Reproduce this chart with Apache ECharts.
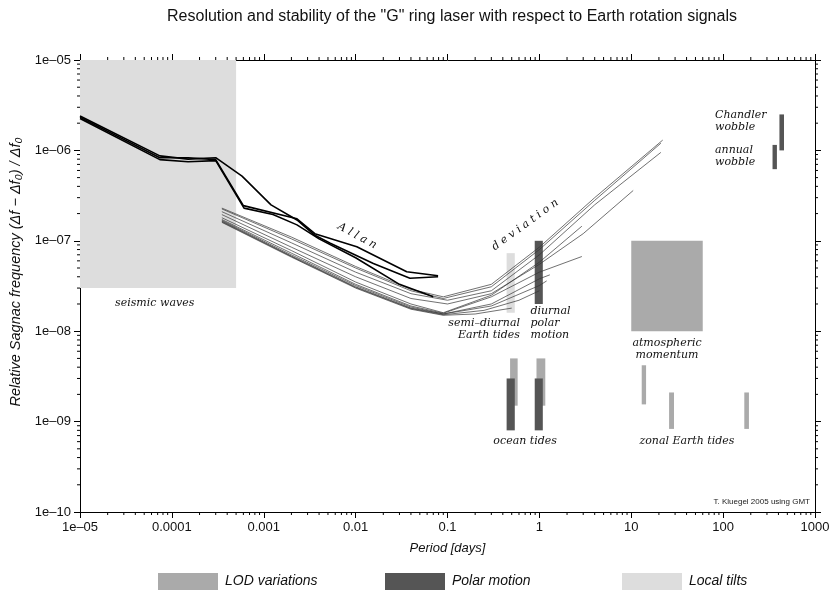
<!DOCTYPE html>
<html>
<head>
<meta charset="utf-8">
<script src="https://cdn.jsdelivr.net/npm/echarts@6.0.0/dist/echarts.min.js"></script>
<style>
  html, body { margin: 0; padding: 0; background: #fff; }
  #chart { width: 840px; height: 594px; }
</style>
</head>
<body>
<div id="chart"></div>
<script>
// axis tick labels (by decade exponent)
const xTickLabels = { '-5': '1e–05', '-4': '0.0001', '-3': '0.001', '-2': '0.01', '-1': '0.1', '0': '1', '1': '10', '2': '100', '3': '1000' };
const yTickLabels = { '-10': '1e–10', '-9': '1e–09', '-8': '1e–08', '-7': '1e–07', '-6': '1e–06', '-5': '1e–05' };

// signal bands: [period from, period to, value from, value to]
const lodBands = [
  [10, 60, 1e-8, 1e-7],        // atmospheric momentum
  [0.48, 0.58, 1.5e-9, 5e-9],  // ocean tides (semi-diurnal)
  [0.93, 1.16, 1.5e-9, 5e-9],  // ocean tides (diurnal)
  [13, 14.5, 1.55e-9, 4.2e-9], // zonal tides
  [25.8, 29.2, 8.3e-10, 2.1e-9],
  [170, 191, 8.3e-10, 2.1e-9]
];
const polarBands = [
  [0.89, 1.09, 2e-8, 1e-7],     // diurnal polar motion
  [0.44, 0.54, 8e-10, 3e-9],    // ocean tides
  [0.89, 1.09, 8e-10, 3e-9],
  [410, 460, 1e-6, 2.5e-6],     // Chandler wobble
  [345, 385, 6.2e-7, 1.15e-6]   // annual wobble
];
const tiltBands = [
  [1e-5, 5e-4, 3e-8, 1e-5],     // seismic waves
  [0.44, 0.54, 1.6e-8, 7.3e-8]  // semi-diurnal Earth tides
];

// Allan deviation curves: [period in days, relative frequency]
const allanThick = [
  [[1e-5, 2.4e-6], [7.4e-5, 8.7e-7], [1.5e-4, 8.0e-7], [3e-4, 8.3e-7], [5.8e-4, 5.2e-7], [1.2e-3, 2.5e-7], [2.3e-3, 1.7e-7], [3.6e-3, 1.15e-7], [5.3e-3, 9.4e-8], [0.0156, 5.6e-8], [0.039, 3.85e-8], [0.079, 4.0e-8]],
  [[1e-5, 2.33e-6], [7.4e-5, 8.3e-7], [1.5e-4, 8.3e-7], [3e-4, 7.9e-7], [6e-4, 2.45e-7], [2.3e-3, 1.75e-7], [3.6e-3, 1.2e-7], [0.0103, 8.6e-8], [0.036, 4.55e-8], [0.079, 4.1e-8]],
  [[1e-5, 2.25e-6], [7.4e-5, 7.9e-7], [1.5e-4, 7.5e-7], [3e-4, 7.7e-7], [6.1e-4, 2.3e-7], [1.26e-3, 1.95e-7], [2.3e-3, 1.5e-7], [4e-3, 1.05e-7], [0.01, 6.5e-8], [0.03, 3.3e-8], [0.07, 2.4e-8]]
];
const allanThin = [
  [[3.5e-4, 2.3e-7], [2e-3, 1.1e-7], [0.01, 5.2e-8], [0.04, 2.9e-8], [0.09, 2.4e-8], [0.3, 3.3e-8], [1, 8.5e-8], [4, 3e-7], [22, 1.3e-6]],
  [[3.5e-4, 2.25e-7], [2e-3, 1.05e-7], [0.01, 5e-8], [0.04, 2.8e-8], [0.09, 2.3e-8], [0.3, 3.1e-8], [1, 8e-8], [4, 2.8e-7], [21, 1.2e-6]],
  [[3.5e-4, 2.1e-7], [2e-3, 9.5e-8], [0.01, 4.5e-8], [0.04, 2.6e-8], [0.1, 2.2e-8], [0.3, 2.8e-8], [1, 7e-8], [4, 2.5e-7], [21, 9.5e-7]],
  [[3.5e-4, 1.95e-7], [2e-3, 8.5e-8], [0.01, 4e-8], [0.04, 2.3e-8], [0.1, 2e-8], [0.3, 2.6e-8], [1, 5.5e-8], [3, 1.2e-7], [10.5, 3.6e-7]],
  [[3.5e-4, 1.8e-7], [2e-3, 7.8e-8], [0.01, 3.5e-8], [0.04, 2e-8], [0.09, 1.6e-8], [0.3, 2.5e-8], [1, 5.8e-8], [2.9, 1.45e-7]],
  [[3.5e-4, 1.72e-7], [2e-3, 7.3e-8], [0.01, 3.3e-8], [0.04, 1.9e-8], [0.09, 1.58e-8], [0.3, 2.4e-8], [1, 4.5e-8], [2.9, 6.7e-8]],
  [[3.5e-4, 1.68e-7], [2e-3, 7e-8], [0.01, 3.2e-8], [0.04, 1.85e-8], [0.09, 1.55e-8], [0.3, 2.0e-8], [1, 3.8e-8], [1.3, 4.2e-8]],
  [[3.5e-4, 1.65e-7], [2e-3, 6.8e-8], [0.01, 3.1e-8], [0.04, 1.8e-8], [0.09, 1.55e-8], [0.3, 1.9e-8], [1, 3.2e-8], [1.2, 3.6e-8]],
  [[3.5e-4, 1.62e-7], [2e-3, 6.7e-8], [0.01, 3.05e-8], [0.04, 1.78e-8], [0.09, 1.52e-8], [0.25, 1.7e-8], [0.6, 2.2e-8], [1, 2.8e-8]],
  [[3.5e-4, 1.6e-7], [2e-3, 6.6e-8], [0.01, 3e-8], [0.04, 1.75e-8], [0.09, 1.5e-8], [0.2, 1.55e-8], [0.5, 1.8e-8]]
];

// text notes placed in data coordinates: [text, period, value, align, rotation deg (ccw)]
const notes = [
  ['seismic waves', 6.5e-5, 2.05e-8, 'center', 0],
  ['A l l a n', 0.0104, 1.13e-7, 'center', -28.5],
  ['d e v i a t i o n', 0.70, 1.5e-7, 'center', 36],
  ['semi–diurnal\nEarth tides', 0.615, 1.06e-8, 'right', 0],
  ['diurnal\npolar\nmotion', 0.80, 1.22e-8, 'left', 0],
  ['atmospheric\nmomentum', 24.5, 6.4e-9, 'center', 0],
  ['ocean tides', 0.70, 6.1e-10, 'center', 0],
  ['zonal Earth tides', 40.4, 6.1e-10, 'center', 0],
  ['Chandler\nwobble', 81.6, 2.09e-6, 'left', 0],
  ['annual\nwobble', 81.6, 8.6e-7, 'left', 0]
];

const LOD = '#aaaaaa', POLAR = '#555555', TILT = '#dddddd';
const sansFont = '"Liberation Sans", Arial, sans-serif';
const serifFont = '"DejaVu Serif", serif';

// minor tick values 2..9 per decade
const minorTicks = [];
for (let d = -5; d < 3; d++) {
  for (let m = 2; m <= 9; m++) {
    minorTicks.push([m * Math.pow(10, d), 1e-10, 0]);
    minorTicks.push([m * Math.pow(10, d), 1e-5, 1]);
  }
}
for (let d = -10; d < -5; d++) {
  for (let m = 2; m <= 9; m++) {
    minorTicks.push([1e-5, m * Math.pow(10, d), 2]);
    minorTicks.push([1000, m * Math.pow(10, d), 3]);
  }
}

function bandSeries(name, color, data) {
  return {
    name: name,
    type: 'custom',
    z: 1,
    itemStyle: { color: color },
    data: data,
    encode: { x: [0, 1], y: [2, 3] },
    renderItem: function (params, api) {
      const p0 = api.coord([api.value(0), api.value(3)]);
      const p1 = api.coord([api.value(1), api.value(2)]);
      return {
        type: 'rect',
        shape: { x: p0[0], y: p0[1], width: p1[0] - p0[0], height: p1[1] - p0[1] },
        style: { fill: color }
      };
    }
  };
}

const chart = echarts.init(document.getElementById('chart'));

const series = [
  bandSeries('LOD variations', LOD, lodBands),
  bandSeries('Polar motion', POLAR, polarBands),
  bandSeries('Local tilts', TILT, tiltBands)
];
allanThin.forEach(function (d, i) {
  series.push({
    name: 'thin' + i, type: 'line', data: d, symbol: 'none', z: 3,
    lineStyle: { color: '#333', width: 0.7 }, silent: true
  });
});
allanThick.forEach(function (d, i) {
  series.push({
    name: 'thick' + i, type: 'line', data: d, symbol: 'none', z: 4,
    lineStyle: { color: '#000', width: 1.6 }, silent: true
  });
});
// minor ticks on all four frame sides
series.push({
  name: 'minor', type: 'custom', clip: false, silent: true, z: 5,
  data: minorTicks,
  renderItem: function (params, api) {
    const p = api.coord([api.value(0), api.value(1)]);
    const k = api.value(2), L = 3;
    let s;
    if (k === 0) s = { x1: p[0], y1: p[1], x2: p[0], y2: p[1] + L };
    else if (k === 1) s = { x1: p[0], y1: p[1], x2: p[0], y2: p[1] - L };
    else if (k === 2) s = { x1: p[0], y1: p[1], x2: p[0] - L, y2: p[1] };
    else s = { x1: p[0], y1: p[1], x2: p[0] + L, y2: p[1] };
    return { type: 'line', shape: s, style: { stroke: '#000', lineWidth: 1 } };
  }
});
// text notes
series.push({
  name: 'notes', type: 'custom', clip: false, silent: true, z: 6,
  data: notes.map(function (n, i) { return [n[1], n[2], i]; }),
  renderItem: function (params, api) {
    const n = notes[api.value(2)];
    const p = api.coord([api.value(0), api.value(1)]);
    return {
      type: 'text', x: p[0], y: p[1], rotation: n[4] * Math.PI / 180,
      style: {
        text: n[0], fill: '#111', font: 'italic 11px ' + serifFont,
        align: n[3], verticalAlign: 'middle', lineHeight: 12
      }
    };
  }
});

function axisBase(pos) {
  return {
    type: 'log', logBase: 10, position: pos,
    axisLine: { show: true, onZero: false, lineStyle: { color: '#000', width: 1 } },
    axisTick: { show: true, inside: false, length: 6, lineStyle: { color: '#000' } },
    splitLine: { show: false },
    minorTick: { show: false },
    minorSplitLine: { show: false }
  };
}

const xBottom = Object.assign(axisBase('bottom'), {
  min: 1e-5, max: 1000, interval: 1,
  name: 'Period [days]', nameLocation: 'middle', nameGap: 30,
  nameTextStyle: { fontFamily: sansFont, fontStyle: 'italic', fontSize: 13, color: '#111' },
  axisLabel: {
    margin: 9, fontFamily: sansFont, fontSize: 13, color: '#111',
    formatter: function (v) { return xTickLabels[String(Math.round(Math.log10(v)))]; }
  }
});
const xTop = Object.assign(axisBase('top'), { min: 1e-5, max: 1000, interval: 1, axisLabel: { show: false } });
const yLeft = Object.assign(axisBase('left'), {
  min: 1e-10, max: 1e-5, interval: 1,
  name: 'Relative Sagnac frequency (Δf − Δf₀) / Δf₀', nameLocation: 'middle', nameGap: 56,
  nameTextStyle: { fontFamily: sansFont, fontStyle: 'italic', fontSize: 14.5, color: '#111', padding: [0, 0, 0, 28] },
  axisLabel: {
    margin: 9, fontFamily: sansFont, fontSize: 13, color: '#111',
    formatter: function (v) { return yTickLabels[String(Math.round(Math.log10(v)))]; }
  }
});
const yRight = Object.assign(axisBase('right'), { min: 1e-10, max: 1e-5, interval: 1, axisLabel: { show: false } });

function legendAt(name, left) {
  return {
    data: [name], left: left, top: 568, icon: 'rect', itemWidth: 60, itemHeight: 17,
    selectedMode: false,
    textStyle: { fontFamily: sansFont, fontStyle: 'italic', fontSize: 14, color: '#111', padding: [0, 0, 0, 2] }
  };
}

chart.setOption({
  animation: false,
  backgroundColor: '#fff',
  title: {
    text: 'Resolution and stability of the "G" ring laser with respect to Earth rotation signals',
    left: 447, top: 4, textAlign: 'center',
    textStyle: { fontFamily: sansFont, fontWeight: 'normal', fontSize: 16, color: '#111' }
  },
  grid: { left: 80, right: 25, top: 60, bottom: 82 },
  legend: [legendAt('LOD variations', 153), legendAt('Polar motion', 380), legendAt('Local tilts', 617)],
  graphic: [{
    type: 'text', right: 30, top: 498,
    style: { text: 'T. Kluegel 2005 using GMT', font: '8px ' + sansFont, fill: '#222' }
  }],
  xAxis: [xBottom, xTop],
  yAxis: [yLeft, yRight],
  series: series
});
</script>
</body>
</html>
